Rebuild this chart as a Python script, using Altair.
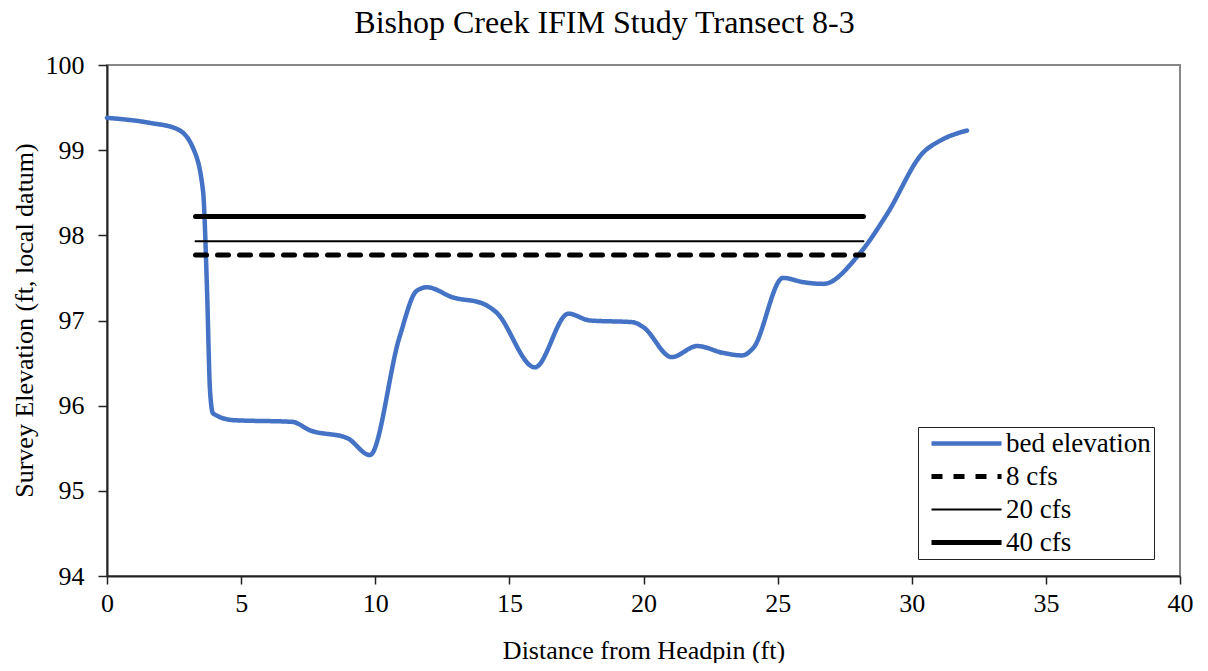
import altair as alt
import pandas as pd

# bed elevation profile
bed_x = [0, 1.6, 2.6, 3.2, 3.58, 3.73, 3.84, 3.95, 4.7, 6.9, 7.57, 8.95, 9.8, 10.9,
         11.55, 11.93, 12.9, 14.0, 14.5, 15.95, 17.2, 18.0, 19.6, 20.0, 21.05, 22.0,
         22.96, 23.67, 24.1, 25.2, 25.95, 26.7, 28.07, 29.08, 30.42, 31.05, 32.06]
bed_y = [99.38, 99.32, 99.25, 99.03, 98.52, 97.35, 96.18, 95.91, 95.83, 95.81, 95.71,
         95.62, 95.42, 96.8, 97.35, 97.39, 97.27, 97.2, 97.1, 96.45, 97.08, 97.0, 96.98,
         96.92, 96.57, 96.7, 96.62, 96.59, 96.68, 97.5, 97.45, 97.43, 97.79, 98.25,
         98.97, 99.11, 99.23]

# water surface elevations
flows = ["8 cfs", "20 cfs", "40 cfs"]
wse = [97.77, 97.93, 98.22]
wse_x = [3.3, 28.2]

series = ["bed elevation", "8 cfs", "20 cfs", "40 cfs"]

rows = []
for i, (x, y) in enumerate(zip(bed_x, bed_y)):
    rows.append({"series": "bed elevation", "x": x, "y": y, "o": i})
for f, w in zip(flows, wse):
    for i, x in enumerate(wse_x):
        rows.append({"series": f, "x": x, "y": w, "o": i})
df = pd.DataFrame(rows)

FONT = "Liberation Serif"

leg = alt.Legend(title=None, orient="none", legendX=811, legendY=362,
                 symbolType="M-0.4,0H8.94", symbolSize=225,
                 labelFont=FONT, labelFontSize=27, labelColor="black",
                 strokeColor="#222222", padding=3, rowPadding=5,
                 labelOffset=58)

chart = alt.Chart(df).mark_line(interpolate="monotone", strokeCap="round").encode(
    x=alt.X("x:Q", scale=alt.Scale(domain=[0, 40], nice=False),
            axis=alt.Axis(title="Distance from Headpin (ft)", values=list(range(0, 41, 5)),
                          grid=False, domainColor="#222222", domainWidth=2,
                          tickColor="#222222", tickWidth=1.5, tickSize=8,
                          labelPadding=6, labelFontSize=26, labelFont=FONT,
                          labelFlush=False,
                          labelColor="black", titleFont=FONT, titleFontSize=26,
                          titleFontWeight="normal", titleColor="black",
                          titleY=82, titleBaseline="alphabetic")),
    y=alt.Y("y:Q", scale=alt.Scale(domain=[94, 100], nice=False, zero=False),
            axis=alt.Axis(title="Survey Elevation (ft, local datum)", values=list(range(94, 101)),
                          grid=False, domainColor="#222222", domainWidth=2,
                          tickColor="#222222", tickWidth=1.5, tickSize=9,
                          labelPadding=14, labelFontSize=26, labelFont=FONT,
                          labelFlush=False,
                          labelColor="black", titleFont=FONT, titleFontSize=26,
                          titleFontWeight="normal", titleColor="black",
                          titleX=-75, titleY=255, titleAngle=-90,
                          titleBaseline="alphabetic", titleAlign="center")),
    color=alt.Color("series:N", scale=alt.Scale(domain=series,
                    range=["#4472C4", "black", "black", "black"]), legend=leg),
    strokeDash=alt.StrokeDash("series:N", scale=alt.Scale(domain=series,
                              range=[[1, 0], [11, 11], [1, 0], [1, 0]]), legend=leg),
    strokeWidth=alt.StrokeWidth("series:N", scale=alt.Scale(type="ordinal", domain=series,
                                range=[4.5, 5, 2, 5]), legend=leg),
    detail="series:N",
    order="o:Q",
).properties(
    width=1073, height=511,
    title=alt.TitleParams("Bishop Creek IFIM Study Transect 8-3", font=FONT, fontSize=32,
                          fontWeight="normal", color="black", anchor="middle",
                          dx=-39, offset=12),
    autosize=alt.AutoSizeParams(type="none"),
    padding={"left": 99, "top": 57, "right": 20, "bottom": 87},
).configure(font=FONT).configure_view(stroke="#888888", strokeWidth=2)

chart.save("out.html", embed_options={"renderer": "svg", "actions": False})
